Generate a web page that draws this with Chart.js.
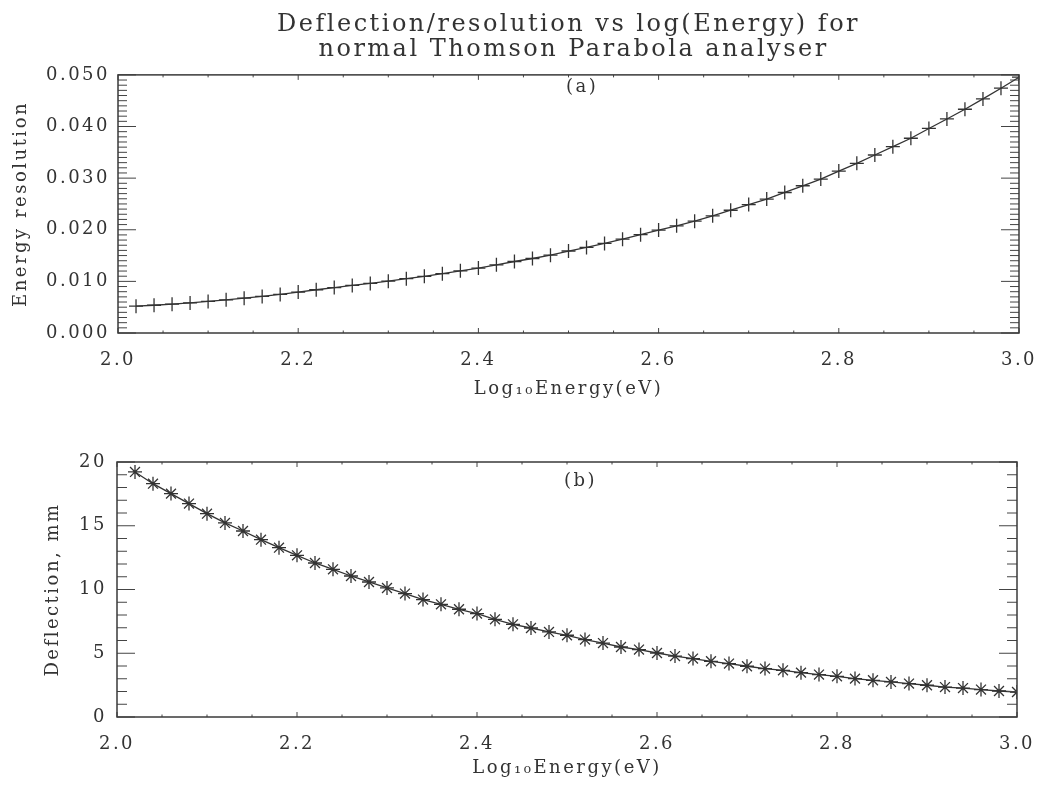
<!DOCTYPE html>
<html>
<head>
<meta charset="utf-8">
<script src="https://cdn.jsdelivr.net/npm/chart.js@4.4.0/dist/chart.umd.min.js"></script>
<style>
    body { margin: 0; background: #fff; }
    #wrap { position: relative; width: 1039px; height: 785px; }
    #wrap canvas { position: absolute; left: 0; }
    #chartTop { top: 0; }
    #chartBottom { top: 400px; }
</style>
</head>
<body>
<div id="wrap">
    <canvas id="chartTop" width="1039" height="400"></canvas>
    <canvas id="chartBottom" width="1039" height="385"></canvas>
</div>
<script>
// log10 of energy (eV), one entry per plotted marker
const logEnergy = [
    2.02, 2.04, 2.06, 2.08, 2.10, 2.12, 2.14, 2.16, 2.18, 2.20,
    2.22, 2.24, 2.26, 2.28, 2.30, 2.32, 2.34, 2.36, 2.38, 2.40,
    2.42, 2.44, 2.46, 2.48, 2.50, 2.52, 2.54, 2.56, 2.58, 2.60,
    2.62, 2.64, 2.66, 2.68, 2.70, 2.72, 2.74, 2.76, 2.78, 2.80,
    2.82, 2.84, 2.86, 2.88, 2.90, 2.92, 2.94, 2.96, 2.98, 3.00
];

// panel (a): energy resolution
const resolution = [
    0.00520, 0.00538, 0.00558, 0.00582, 0.00612, 0.00643, 0.00674, 0.00708, 0.00748, 0.00793,
    0.00838, 0.00879, 0.00922, 0.00960, 0.01003, 0.01052, 0.01098, 0.01150, 0.01205, 0.01258,
    0.01320, 0.01385, 0.01443, 0.01508, 0.01588, 0.01657, 0.01735, 0.01818, 0.01905, 0.01993,
    0.02076, 0.02167, 0.02270, 0.02378, 0.02488, 0.02594, 0.02722, 0.02852, 0.02982, 0.03137,
    0.03287, 0.03448, 0.03609, 0.03772, 0.03962, 0.04146, 0.04334, 0.04534, 0.04742, 0.04955
];

// panel (b): deflection in mm
const deflection = [
    19.22, 18.30, 17.52, 16.74, 15.95, 15.22, 14.59, 13.91, 13.28, 12.68,
    12.08, 11.58, 11.06, 10.59, 10.12, 9.68, 9.21, 8.84, 8.45, 8.11,
    7.66, 7.27, 6.98, 6.67, 6.41, 6.07, 5.80, 5.49, 5.29, 5.02,
    4.78, 4.58, 4.37, 4.19, 3.98, 3.80, 3.66, 3.48, 3.33, 3.19,
    3.01, 2.88, 2.75, 2.62, 2.49, 2.35, 2.27, 2.15, 2.04, 1.96
];

const titleLines = ['Deflection/resolution vs log(Energy) for', ' normal Thomson Parabola analyser'];
const xTitle = 'Log\u2081\u2080Energy(eV)';

const FONT = '"DejaVu Serif", "Liberation Serif", serif';
const INK = '#333';

// IDL style frame with inward major/minor ticks on all four sides
const idlFrame = {
    id: 'idlFrame',
    beforeUpdate(chart) { chart.ctx.letterSpacing = '2.5px'; },
    beforeDraw(chart) { chart.ctx.letterSpacing = '2.5px'; },
    afterDraw(chart, args, o) {
        const {ctx, chartArea: a} = chart;
        const x = chart.scales.x, y = chart.scales.y;
        ctx.save();
        ctx.strokeStyle = '#444';
        ctx.lineWidth = 1;
        ctx.beginPath();
        const nx = Math.round((x.max - x.min) / o.xMinor);
        for (let i = 0; i <= nx; i++) {
            const px = x.getPixelForValue(x.min + i * o.xMinor);
            const len = i % o.xEvery === 0 ? o.xMajorLen : o.xMinorLen;
            ctx.moveTo(px, a.bottom); ctx.lineTo(px, a.bottom - len);
            ctx.moveTo(px, a.top); ctx.lineTo(px, a.top + len);
        }
        const ny = Math.round((y.max - y.min) / o.yMinor);
        for (let i = 0; i <= ny; i++) {
            const py = y.getPixelForValue(y.min + i * o.yMinor);
            const len = i % o.yEvery === 0 ? o.yMajorLen : o.yMinorLen;
            ctx.moveTo(a.left, py); ctx.lineTo(a.left + len, py);
            ctx.moveTo(a.right, py); ctx.lineTo(a.right - len, py);
        }
        ctx.stroke();
        ctx.strokeStyle = '#3a3a3a';
        ctx.lineWidth = 1.5;
        ctx.strokeRect(a.left, a.top, a.right - a.left, a.bottom - a.top);

        ctx.fillStyle = INK;
        ctx.font = '18px ' + FONT;
        ctx.textAlign = 'center';
        ctx.textBaseline = 'middle';
        ctx.fillText(o.tag, x.getPixelForValue(o.tagX), y.getPixelForValue(o.tagY));
        ctx.restore();
    }
};

function createChart(el, values, cfg) {
    const points = logEnergy.map((e, i) => ({x: e, y: values[i]}));
    return new Chart(el, {
        type: 'line',
        data: {
            datasets: [{
                data: points,
                borderColor: INK,
                borderWidth: 1.3,
                tension: 0,
                pointStyle: cfg.marker,
                pointRadius: 7,
                pointBorderWidth: 1.3,
                pointBorderColor: INK,
                pointBackgroundColor: INK,
            }]
        },
        plugins: [idlFrame],
        options: {
            responsive: false,
            animation: false,
            layout: {padding: cfg.padding},
            plugins: {
                legend: {display: false},
                tooltip: {enabled: false},
                title: cfg.title,
                idlFrame: cfg.frame
            },
            scales: {
                x: {
                    type: 'linear',
                    min: 2.0,
                    max: 3.0,
                    grid: {display: false, drawTicks: false},
                    border: {display: false},
                    ticks: {
                        stepSize: 0.2,
                        padding: 17,
                        color: INK,
                        font: {family: FONT, size: 18},
                        callback: v => v.toFixed(1)
                    },
                    title: {
                        display: true,
                        text: xTitle,
                        color: INK,
                        font: {family: FONT, size: 18},
                        padding: {top: 0, bottom: cfg.xTitlePad}
                    },
                    afterFit: s => {
                        s.height = cfg.xHeight;
                        s.paddingLeft = 0;
                        s.paddingRight = 0;
                    }
                },
                y: {
                    min: cfg.yMin,
                    max: cfg.yMax,
                    grid: {display: false, drawTicks: false},
                    border: {display: false},
                    ticks: {
                        stepSize: cfg.yStep,
                        padding: cfg.yTickPad,
                        color: INK,
                        font: {family: FONT, size: 18},
                        callback: cfg.yFormat
                    },
                    title: {
                        display: true,
                        text: cfg.yTitle,
                        color: INK,
                        font: {family: FONT, size: 18},
                        padding: {top: cfg.yTitlePad, bottom: 0}
                    },
                    afterFit: s => {
                        s.width = cfg.yWidth;
                        s.paddingTop = 0;
                        s.paddingBottom = 0;
                    }
                }
            }
        }
    });
}

createChart(document.getElementById('chartTop'), resolution, {
    marker: 'cross',
    padding: {top: 0, right: 20, bottom: 0, left: 0},
    title: {
        display: true,
        text: titleLines,
        fullSize: false,
        color: INK,
        font: {family: FONT, size: 24, weight: 'normal', lineHeight: 1.06},
        padding: {top: 12, bottom: 12}
    },
    frame: {xMinor: 0.05, xEvery: 4, xMajorLen: 5, xMinorLen: 2.5,
            yMinor: 0.001, yEvery: 10, yMajorLen: 18, yMinorLen: 9,
            tag: '(a)', tagX: 2.515, tagY: 0.0476},
    xHeight: 67, xTitlePad: 0,
    yMin: 0, yMax: 0.05, yStep: 0.01, yTickPad: 8,
    yFormat: v => v.toFixed(3),
    yTitle: 'Energy resolution', yTitlePad: 11, yWidth: 118
});

createChart(document.getElementById('chartBottom'), deflection, {
    marker: 'star',
    padding: {top: 62, right: 22, bottom: 0, left: 0},
    title: {display: false},
    frame: {xMinor: 0.05, xEvery: 4, xMajorLen: 5, xMinorLen: 2.5,
            yMinor: 1, yEvery: 5, yMajorLen: 18, yMinorLen: 10,
            tag: '(b)', tagX: 2.515, tagY: 18.5},
    xHeight: 68, xTitlePad: 6,
    yMin: 0, yMax: 20, yStep: 5, yTickPad: 10,
    yFormat: v => String(v),
    yTitle: 'Deflection, mm', yTitlePad: 43, yWidth: 117
});
</script>
</body>
</html>
